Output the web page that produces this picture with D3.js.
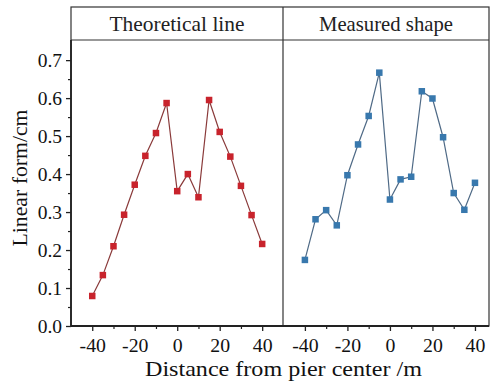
<!DOCTYPE html>
<html><head><meta charset="utf-8">
<script src="https://cdn.jsdelivr.net/npm/d3@7"></script>
<style>body{margin:0;background:#fff}svg{display:block}</style>
</head><body>
<script>
const xValues = [-40,-35,-30,-25,-20,-15,-10,-5,0,5,10,15,20,25,30,35,40];
const theoretical = [0.079,0.134,0.210,0.293,0.372,0.448,0.508,0.587,0.355,0.400,0.339,0.595,0.511,0.446,0.369,0.292,0.216];
const measured = [0.174,0.281,0.305,0.265,0.397,0.478,0.553,0.667,0.333,0.386,0.393,0.618,0.599,0.497,0.350,0.306,0.377];
const panelTitles = ["Theoretical line","Measured shape"];
const xTicks = [-40,-20,0,20,40];
const yTicks = [0.0,0.1,0.2,0.3,0.4,0.5,0.6,0.7];

(function(){
const W=492,H=385;
const svg=d3.select("body").append("svg").attr("width",W).attr("height",H);
const font="'Liberation Serif','Times New Roman',serif";
const frameTop=7, headerBottom=40, bottom=326, left=71, mid=283, right=489;

const y=d3.scaleLinear().domain([0,0.753]).range([bottom,headerBottom]);
const panels=[
 {x0:left,x1:mid,domain:[-50,49.8],data:theoretical,mk:"#c8232c",ln:"#8a3a3a",tl:135},
 {x0:mid,x1:right,domain:[-50.3,46.6],data:measured,mk:"#3878ad",ln:"#4f6a86",tl:134}
];

panels.forEach((p,i)=>{
  const x=d3.scaleLinear().domain(p.domain).range([p.x0,p.x1]);
  const g=svg.append("g");
  const ax=d3.axisBottom(x).tickValues(xTicks).tickFormat(d=>d===0?"0":(d<0?"-"+(-d):String(d))).tickSize(5).tickSizeOuter(0);
  const ga=g.append("g").attr("transform",`translate(0,${bottom})`).call(ax);
  ga.select(".domain").remove();
  ga.selectAll("line").attr("stroke","#222").attr("stroke-width",1.3);
  ga.selectAll("text").attr("font-family",font).attr("font-size",19).attr("fill","#111").attr("dy","0.95em")
    .attr("transform","scale(1.04,1)");
  const axm=d3.axisBottom(x).tickValues([-30,-10,10,30]).tickFormat("").tickSize(3).tickSizeOuter(0);
  const gm=g.append("g").attr("transform",`translate(0,${bottom})`).call(axm);
  gm.select(".domain").remove();
  gm.selectAll("line").attr("stroke","#222").attr("stroke-width",1.2);

  const line=d3.line().x((d,j)=>x(xValues[j])).y(d=>y(d));
  g.append("path").datum(p.data).attr("d",line).attr("fill","none").attr("stroke",p.ln).attr("stroke-width",1.2);
  const s=6.5;
  g.selectAll("rect.m").data(p.data).enter().append("rect")
   .attr("x",(d,j)=>x(xValues[j])-s/2).attr("y",d=>y(d)-s/2)
   .attr("width",s).attr("height",s).attr("fill",p.mk);

  svg.append("text").attr("x",(p.x0+p.x1)/2).attr("y",31).attr("text-anchor","middle")
   .attr("font-family",font).attr("font-size",21.5).attr("fill","#222")
   .attr("textLength",p.tl).attr("lengthAdjust","spacingAndGlyphs").text(panelTitles[i]);
});

const ay=d3.axisLeft(y).tickValues(yTicks).tickFormat(d3.format(".1f")).tickSize(5).tickSizeOuter(0);
const gy=svg.append("g").attr("transform",`translate(${left},0)`).call(ay);
gy.select(".domain").remove();
gy.selectAll("line").attr("stroke","#222").attr("stroke-width",1.3);
gy.selectAll("text").attr("font-family",font).attr("font-size",19.5).attr("fill","#111").attr("x",-9);
const aym=d3.axisLeft(y).tickValues([0.05,0.15,0.25,0.35,0.45,0.55,0.65]).tickFormat("").tickSize(3);
const gym=svg.append("g").attr("transform",`translate(${left},0)`).call(aym);
gym.select(".domain").remove();
gym.selectAll("line").attr("stroke","#222").attr("stroke-width",1.2);

const fr=svg.append("g").attr("fill","none").attr("stroke","#333");
fr.append("rect").attr("x",left).attr("y",frameTop).attr("width",right-left).attr("height",bottom-frameTop).attr("stroke-width",1.2);
fr.append("line").attr("x1",left).attr("x2",right).attr("y1",headerBottom).attr("y2",headerBottom).attr("stroke-width",1.2);
fr.append("line").attr("x1",mid).attr("x2",mid).attr("y1",frameTop).attr("y2",bottom).attr("stroke-width",1.2);
fr.append("line").attr("x1",left).attr("x2",right).attr("y1",bottom).attr("y2",bottom).attr("stroke","#222").attr("stroke-width",1.8);
fr.append("line").attr("x1",left).attr("x2",left).attr("y1",headerBottom).attr("y2",bottom).attr("stroke","#222").attr("stroke-width",1.8);

svg.append("text").attr("x",283.5).attr("y",376).attr("text-anchor","middle")
 .attr("font-family",font).attr("font-size",22).attr("fill","#111")
 .attr("textLength",277).attr("lengthAdjust","spacingAndGlyphs").text("Distance from pier center /m");
svg.append("text").attr("transform","translate(27,178) rotate(-90)").attr("text-anchor","middle")
 .attr("font-family",font).attr("font-size",21.5).attr("fill","#111")
 .attr("textLength",137).attr("lengthAdjust","spacingAndGlyphs").text("Linear form/cm");
})();
</script>
</body></html>
